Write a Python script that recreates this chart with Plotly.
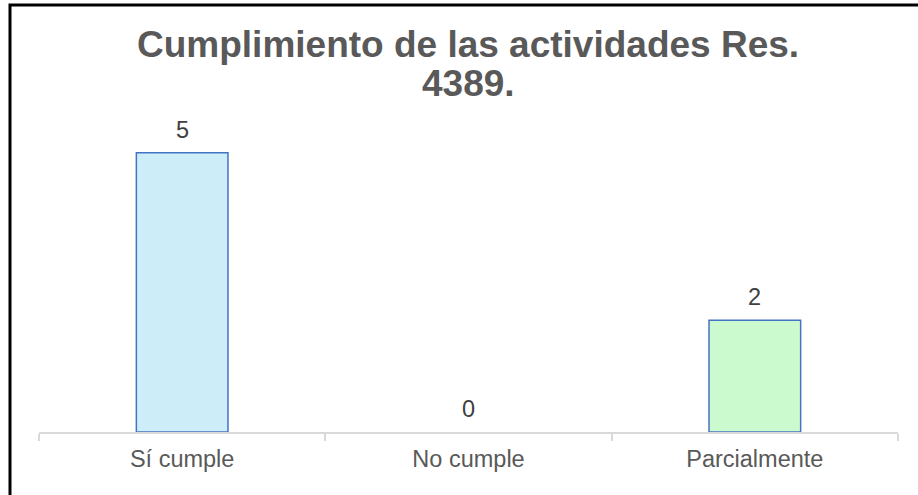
import plotly.graph_objects as go

categories = ["Sí cumple", "No cumple", "Parcialmente"]
values = [5, 0, 2]
fill_colors = ["#CDEEF8", "#FFFFFF", "#CCFACF"]
title_line1 = "Cumplimiento de las actividades Res."
title_line2 = "4389."

W, H = 918, 495
plot_left, plot_right, plot_top, plot_bottom = 39, 898, 97, 432
ml = plot_left
mr = W - plot_right
mt = plot_top
mb = H - plot_bottom
ph = plot_bottom - plot_top
pw = plot_right - plot_left

def py(px):
    return (plot_bottom - px) / ph

def pxx(px):
    return (px - plot_left) / pw

FONT = "Liberation Sans, Arial, sans-serif"

fig = go.Figure()
fig.add_trace(go.Bar(
    x=categories, y=values,
    marker=dict(color=fill_colors,
                line=dict(color="#4472C4", width=[1.5 if v > 0 else 0 for v in values])),
    width=0.32,
    hoverinfo="x+y",
))

for c, v in zip(categories, values):
    fig.add_annotation(x=c, y=v, xref="x", yref="y", text=str(v), showarrow=False,
                       yanchor="middle", yshift=23,
                       font=dict(family=FONT, size=23.5, color="#404040"))

fig.add_annotation(x=pxx(468), y=py(45), xref="paper", yref="paper", text="<b>%s</b>" % title_line1,
                   showarrow=False, xanchor="center", yanchor="middle",
                   font=dict(family=FONT, size=37, color="#595959"))
fig.add_annotation(x=pxx(468), y=py(84), xref="paper", yref="paper", text="<b>%s</b>" % title_line2,
                   showarrow=False, xanchor="center", yanchor="middle",
                   font=dict(family=FONT, size=37, color="#595959"))

fig.add_shape(type="path", xref="paper", yref="paper",
              path="M %f %f L %f %f L %f %f" % (pxx(10), py(520), pxx(10), py(5), pxx(940), py(5)),
              line=dict(color="#000000", width=3))

fig.update_layout(
    width=W, height=H,
    margin=dict(l=ml, r=mr, t=mt, b=mb),
    paper_bgcolor="white", plot_bgcolor="white",
    showlegend=False,
    font=dict(family=FONT, color="#595959"),
    xaxis=dict(type="category", tickson="boundaries", ticks="outside", ticklen=7,
               tickcolor="#D9D9D9", tickwidth=1.5, showline=True, linecolor="#D9D9D9",
               linewidth=1.5, showgrid=False, zeroline=False, ticklabelstandoff=5,
               tickfont=dict(family=FONT, size=23.5, color="#595959")),
    yaxis=dict(range=[0, 6], visible=False, showgrid=False, zeroline=False),
)

fig.write_html("out.html", config={"displayModeBar": False},
               post_script="document.body.style.margin='0';")
